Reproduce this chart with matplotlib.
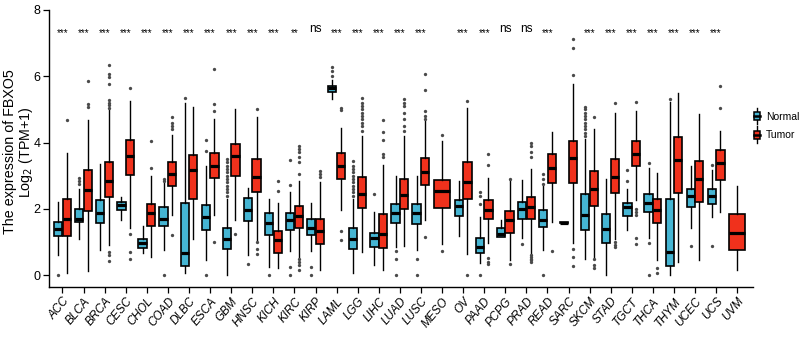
import matplotlib
matplotlib.use("Agg")
import matplotlib.pyplot as plt
from matplotlib.legend_handler import HandlerBase
from matplotlib.patches import Rectangle, Patch
from matplotlib.lines import Line2D

plt.rcParams['font.family'] = ['Liberation Sans', 'DejaVu Sans']

categories = ["ACC", "BLCA", "BRCA", "CESC", "CHOL", "COAD", "DLBC", "ESCA", "GBM", "HNSC",
              "KICH", "KIRC", "KIRP", "LAML", "LGG", "LIHC", "LUAD", "LUSC", "MESO", "OV",
              "PAAD", "PCPG", "PRAD", "READ", "SARC", "SKCM", "STAD", "TGCT", "THCA", "THYM",
              "UCEC", "UCS", "UVM"]

signif = ["***", "***", "***", "***", "***", "***", "***", "***", "***", "***",
          "***", "**", "ns", "***", "***", "***", "***", "***", "", "***",
          "***", "ns", "ns", "***", "", "***", "***", "***", "***", "***",
          "***", "***", ""]

# Normal group: (whisker low, q1, median, q3, whisker high); None = no normal samples
normal_stats = [
    (0.62, 1.17, 1.38, 1.59, 2.22), (1.10, 1.60, 1.70, 1.98, 2.60), (0.77, 1.57, 1.88, 2.28, 3.35),
    (1.65, 1.95, 2.12, 2.22, 2.35), (0.67, 0.82, 0.96, 1.10, 1.47), (0.77, 1.48, 1.69, 2.04, 2.78),
    (0.05, 0.28, 0.67, 2.19, 5.20), (0.45, 1.37, 1.75, 2.11, 3.30), (0.00, 0.80, 1.08, 1.42, 2.30),
    (0.60, 1.62, 1.95, 2.34, 2.62), (0.25, 1.20, 1.58, 1.87, 2.31), (0.73, 1.37, 1.67, 1.87, 2.50),
    (0.73, 1.22, 1.43, 1.68, 2.17), (5.32, 5.54, 5.65, 5.72, 5.90), (0.05, 0.80, 1.08, 1.42, 2.30),
    (0.30, 0.85, 1.13, 1.28, 1.90), (0.85, 1.57, 1.87, 2.14, 3.00), (0.75, 1.55, 1.87, 2.14, 3.00),
    None, (1.19, 1.79, 2.09, 2.28, 2.85), (0.35, 0.67, 0.85, 1.11, 1.75),
    (1.15, 1.15, 1.25, 1.42, 1.65), (1.13, 1.68, 2.00, 2.20, 2.86), (0.77, 1.45, 1.65, 1.97, 2.70),
    (1.57, 1.57, 1.58, 1.59, 1.59), (0.50, 1.37, 1.80, 2.46, 4.10), (0.00, 0.98, 1.38, 1.83, 2.90),
    (1.35, 1.78, 2.04, 2.19, 2.60), (1.13, 1.90, 2.19, 2.44, 3.24), (0.00, 0.28, 0.69, 2.29, 5.21),
    (1.42, 2.06, 2.39, 2.59, 3.29), (1.75, 2.14, 2.39, 2.59, 3.18), None,
]
normal_outliers = [
    [0.0], [2.75, 2.85, 2.92], [], [], [], [2.85, 2.9, 0.0],
    [5.33], [3.75, 4.07, 0.0], [2.4, 2.5, 2.6, 2.7, 2.8, 2.9, 3.0, 3.1, 3.2, 3.3, 3.4, 3.5],
    [0.33], [0.0], [2.73, 3.47, 0.25, 0.0],
    [0.25, 0.0], [6.02, 6.17, 6.27], [2.4, 2.5, 2.6, 2.7, 2.8, 2.9, 3.0, 3.1, 3.2, 3.3, 3.45],
    [2.45], [0.72, 0.5, 0.0], [0.5, 0.0],
    [], [], [2.15, 2.4, 2.5, 0.0],
    [], [0.95], [2.75, 2.9, 3.05, 0.0],
    [], [4.2, 4.3, 4.4, 4.5, 4.6, 4.7, 4.8, 4.9, 5.0, 5.06], [],
    [2.83, 3.16], [3.38, 0.97, 0.0], [5.31],
    [0.88], [3.31, 0.88], [],
]

# Tumor group: (whisker low, q1, median, q3, whisker high)
tumor_stats = [
    (0.05, 1.18, 1.68, 2.31, 3.67), (0.12, 1.92, 2.58, 3.16, 4.67), (0.90, 2.36, 2.84, 3.41, 5.00),
    (1.42, 3.01, 3.58, 4.08, 5.25), (0.55, 1.48, 1.86, 2.14, 3.00), (1.80, 2.70, 3.06, 3.42, 4.23),
    (1.10, 2.31, 3.16, 3.61, 5.08), (1.80, 2.94, 3.28, 3.69, 4.70), (1.65, 2.98, 3.58, 3.97, 5.02),
    (1.05, 2.50, 2.97, 3.50, 4.77), (0.20, 0.67, 1.05, 1.33, 2.17), (0.55, 1.43, 1.78, 2.07, 2.85),
    (0.15, 0.95, 1.33, 1.68, 2.80), (1.95, 2.91, 3.28, 3.69, 4.43), (0.70, 2.03, 2.44, 2.95, 4.20),
    (0.15, 0.82, 1.25, 1.85, 3.33), (0.87, 2.00, 2.43, 2.89, 4.20), (1.65, 2.72, 3.12, 3.52, 4.65),
    (0.95, 2.01, 2.54, 2.86, 4.06), (0.65, 2.30, 2.81, 3.41, 5.04), (0.98, 1.68, 1.95, 2.26, 2.94),
    (0.45, 1.28, 1.65, 1.92, 2.86), (0.65, 1.70, 2.05, 2.36, 3.19), (1.60, 2.79, 3.23, 3.66, 4.33),
    (0.97, 2.78, 3.53, 4.06, 5.78), (0.55, 2.09, 2.61, 3.14, 4.41), (1.10, 2.49, 2.96, 3.50, 4.88),
    (2.26, 3.29, 3.64, 4.05, 4.94), (0.45, 1.58, 1.97, 2.31, 3.08), (0.40, 2.49, 3.48, 4.18, 5.48),
    (0.45, 2.21, 2.89, 3.43, 4.86), (1.90, 2.88, 3.39, 3.76, 4.36), (0.15, 0.77, 1.27, 1.85, 2.69),
]
tumor_outliers = [
    [4.68], [5.08, 5.17, 5.87], [5.05, 5.12, 5.2, 5.28, 5.77, 5.98, 6.07, 6.33, 0.7, 0.6, 0.43],
    [5.64, 1.24, 0.69, 0.5], [3.23, 4.05], [4.4, 4.5, 4.6, 4.77, 1.22],
    [], [4.95, 5.15, 6.23, 1.0], [1.23],
    [5.02, 1.0, 0.8, 0.65], [2.55, 2.85], [3.05, 3.4, 3.55, 3.7, 3.8, 3.9, 0.5, 0.4, 0.3, 0.15],
    [2.95, 3.05, 3.15], [4.97, 5.05, 1.33, 1.07], [4.35, 4.5, 4.6, 4.7, 4.8, 4.9, 5.0, 5.1, 5.2, 5.33],
    [3.55, 3.65, 4.07, 4.33, 4.68], [4.35, 4.5, 4.7, 4.9, 5.1, 5.2, 5.3], [4.7, 4.8, 4.95, 5.58, 6.08, 1.15],
    [4.23, 0.73], [5.24, 0.0], [3.32, 3.64, 0.53, 0.4, 0.33],
    [2.9, 0.32], [3.55, 3.7, 3.9, 4.0, 0.6, 0.55, 0.5, 0.45, 0.4], [0.73],
    [6.05, 6.85, 7.12, 0.8, 0.55, 0.28], [4.76, 0.5, 0.3, 0.2], [5.19, 1.0, 0.9, 0.85],
    [5.21, 2.0, 1.9, 1.8, 1.12, 0.95], [0.2, 0.07], [],
    [], [5.04, 5.71], [],
]

NORMAL_COL = "#45B5D3"
TUMOR_COL = "#F0311C"


def to_stats(s, fl):
    lo, q1, med, q3, hi = s
    return dict(whislo=lo, q1=q1, med=med, q3=q3, whishi=hi, fliers=fl)


fig = plt.figure(figsize=(8.0, 3.39), dpi=100)
W, H = 800, 339
ax = fig.add_axes([49 / W, (H - 287) / H, (753 - 49) / W, (287 - 10) / H])

common = dict(patch_artist=True, showcaps=False,
              whiskerprops=dict(color="black", linewidth=1.0),
              medianprops=dict(color="black", linewidth=2.3, solid_capstyle="butt"),
              flierprops=dict(marker="o", markersize=2.4, markerfacecolor="#4a4a4a",
                              markeredgecolor="none"))

for i in range(len(categories)):
    ns = normal_stats[i]
    ts = tumor_stats[i]
    if ns is None:
        pos_t, w = [i], 0.75
    else:
        pos_t, w = [i + 0.205], 0.39
        ax.bxp([to_stats(ns, normal_outliers[i])], positions=[i - 0.205], widths=0.39,
               boxprops=dict(facecolor=NORMAL_COL, edgecolor="black", linewidth=1.2), **common)
    ax.bxp([to_stats(ts, tumor_outliers[i])], positions=pos_t, widths=w,
           boxprops=dict(facecolor=TUMOR_COL, edgecolor="black", linewidth=1.2), **common)

for i, lab in enumerate(signif):
    if lab:
        if lab == "ns":
            ax.text(i, 7.42, lab, ha="center", va="center", fontsize=8.5)
        else:
            ax.text(i, 7.30, lab, ha="center", va="center", fontsize=7)

ax.set_xlim(-0.64, 32.75)
ax.set_ylim(-0.36, 8.0)
ax.set_yticks([0, 2, 4, 6, 8])
ax.set_yticklabels(["0", "2", "4", "6", "8"], fontsize=9)
ax.set_xticks(range(len(categories)))
ax.set_xticklabels(categories, rotation=50, ha="right", rotation_mode="anchor",
                   fontsize=8.5, style="italic")
ax.tick_params(axis="both", direction="out", length=4, width=0.9, color="black")
ax.tick_params(axis="x", pad=2)
ax.tick_params(axis="y", pad=2)
for sp in ["top", "right"]:
    ax.spines[sp].set_visible(False)
for sp in ["left", "bottom"]:
    ax.spines[sp].set_linewidth(1.0)

fig.text(19 / W, 1 - 152 / H, "The expression of FBXO5\nLog$_2$ (TPM+1)", rotation=90,
         ha="center", va="center", multialignment="center", fontsize=10.3, linespacing=1.05)


class BoxHandler(HandlerBase):
    def create_artists(self, legend, orig_handle, xdescent, ydescent, width, height, fontsize, trans):
        cx = xdescent * -1 + width / 2
        bw = width * 0.9
        bh = height * 1.0
        y0 = -ydescent + (height - bh) / 2
        wl = Line2D([cx, cx], [y0 - 3, y0 + bh + 3], color="black", lw=1.0, transform=trans)
        r = Rectangle((cx - bw / 2, y0), bw, bh, facecolor=orig_handle.get_facecolor(),
                      edgecolor="black", lw=1.1, transform=trans)
        m = Line2D([cx - bw / 2, cx + bw / 2], [y0 + bh / 2, y0 + bh / 2], color="black",
                   lw=1.8, transform=trans)
        return [wl, r, m]


handles = [Patch(facecolor=NORMAL_COL, label="Normal"), Patch(facecolor=TUMOR_COL, label="Tumor")]
fig.legend(handles=handles, loc="center left", bbox_to_anchor=(746 / W, 1 - 126 / H),
           frameon=False, fontsize=7.5, handler_map={Patch: BoxHandler()},
           handlelength=0.7, handleheight=0.8, handletextpad=0.5, labelspacing=0.8,
           borderpad=0.2)

fig.savefig("out.png", dpi=100)
